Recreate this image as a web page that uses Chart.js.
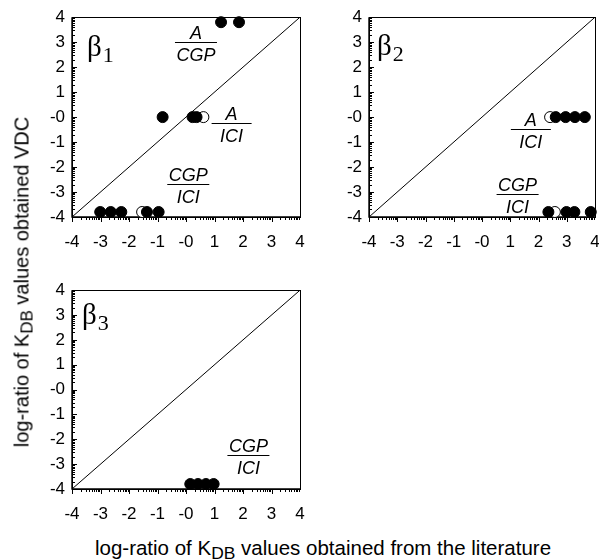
<!DOCTYPE html>
<html lang="en">
<head>
<meta charset="UTF-8" />
<title>log-ratio of KDB values</title>
<script src="https://cdn.jsdelivr.net/npm/chart.js"></script>
<style>
  body {
    margin: 0;
    background: #fff;
    width: 599px;
    height: 560px;
    position: relative;
    overflow: hidden;
    font-family: "Liberation Sans", Arial, sans-serif;
    color: #000;
  }
  canvas { position: absolute; }
  .ytitle {
    position: absolute;
    left: 22px;
    top: 282px;
    transform: translate(-50%, -50%) rotate(-90deg);
    white-space: nowrap;
    font-size: 20px;
  }
  .xtitle {
    position: absolute;
    left: 323px;
    top: 548px;
    transform: translate(-50%, -50%);
    white-space: nowrap;
    font-size: 20.5px;
  }
  sub { font-size: 0.85em; vertical-align: -0.25em; line-height: 0; }
</style>
</head>
<body>
<canvas id="b1" width="290" height="260" style="left:30px;top:0px"></canvas>
<canvas id="b2" width="290" height="260" style="left:327px;top:0px"></canvas>
<canvas id="b3" width="290" height="260" style="left:30px;top:273px"></canvas>
<div class="ytitle">log-ratio of K<sub>DB</sub> values obtained VDC</div>
<div class="xtitle">log-ratio of K<sub>DB</sub> values obtained from the literature</div>

<script>
// tick values on both axes
const axisTicks = [-4, -3, -2, -1, 0, 1, 2, 3, 4];
const diagonalX = [-4, 4];
const diagonalY = [-4, 4];

// beta1 : filled and open circles
const b1FilledX = [1.23, 1.86, -0.82, 0.23, 0.37, -3.01, -2.64, -2.27, -1.37, -0.96];
const b1FilledY = [3.8, 3.8, 0, 0, 0, -3.8, -3.8, -3.8, -3.8, -3.8];
const b1OpenX = [0.61, -1.54];
const b1OpenY = [0, -3.8];

// beta2
const b2FilledX = [2.61, 2.96, 3.29, 3.64, 2.35, 2.99, 3.27, 3.85];
const b2FilledY = [0, 0, 0, 0, -3.8, -3.8, -3.8, -3.8];
const b2OpenX = [2.41, 2.58];
const b2OpenY = [0, -3.8];

// beta3
const b3FilledX = [0.15, 0.42, 0.7, 0.97];
const b3FilledY = [-3.8, -3.8, -3.8, -3.8];
const b3OpenX = [];
const b3OpenY = [];

const tickFont = { family: "'Liberation Sans', Arial, sans-serif", size: 17 };

function toPoints(xs, ys) {
  return xs.map((x, i) => ({ x: x, y: ys[i] }));
}

// frame, small ticks, beta label, fraction labels
const panelDecor = {
  id: "panelDecor",
  beforeDatasetsDraw(chart) {
    const ctx = chart.ctx;
    const a = chart.chartArea;
    const xs = chart.scales.x;
    const ys = chart.scales.y;
    ctx.save();
    ctx.strokeStyle = "#000";
    ctx.lineWidth = 1;
    ctx.strokeRect(Math.round(a.left) + 0.5, Math.round(a.top) + 0.5,
      Math.round(a.right - a.left), Math.round(a.bottom - a.top));
    ctx.lineWidth = 1.4;
    ctx.beginPath();
    ctx.moveTo(a.left, a.top);
    ctx.lineTo(a.left, a.bottom);
    ctx.lineTo(a.right, a.bottom);
    ctx.stroke();
    ctx.lineWidth = 1;
    ctx.beginPath();
    for (let k = -4; k < 4; k++) {
      for (let m = 1; m <= 9; m++) {
        const v = k + Math.log10(m);
        const len = m === 1 ? 5 : 3;
        const py = Math.round(ys.getPixelForValue(v)) + 0.5;
        ctx.moveTo(a.left, py);
        ctx.lineTo(a.left + len, py);
        const px = Math.round(xs.getPixelForValue(v)) + 0.5;
        ctx.moveTo(px, a.bottom);
        ctx.lineTo(px, a.bottom + len);
      }
    }
    ctx.stroke();
    ctx.restore();
  },
  afterDraw(chart, args, opts) {
    const ctx = chart.ctx;
    const a = chart.chartArea;
    const xs = chart.scales.x;
    const ys = chart.scales.y;
    ctx.save();
    ctx.fillStyle = "#000";
    // beta label
    ctx.textBaseline = "alphabetic";
    ctx.textAlign = "left";
    ctx.font = "29px 'Liberation Serif', serif";
    const bx = a.left + opts.betaDx;
    const by = a.top + opts.betaDy;
    ctx.fillText("\u03b2", bx, by);
    const bw = ctx.measureText("\u03b2").width;
    ctx.font = "22px 'Liberation Serif', serif";
    ctx.fillText(opts.betaSub, bx + bw + 1, by + 6);
    // fraction labels
    ctx.font = "italic 18px 'Liberation Sans', Arial, sans-serif";
    ctx.textAlign = "center";
    ctx.strokeStyle = "#000";
    ctx.lineWidth = 1;
    opts.fractions.forEach((f) => {
      const px = xs.getPixelForValue(f.x);
      const py = Math.round(ys.getPixelForValue(f.y)) + 0.5;
      const w = Math.max(40, ctx.measureText(f.top).width + 3, ctx.measureText(f.bottom).width + 3);
      ctx.beginPath();
      ctx.moveTo(px - w / 2, py);
      ctx.lineTo(px + w / 2, py);
      ctx.stroke();
      ctx.textBaseline = "alphabetic";
      ctx.fillText(f.top, px, py - 4);
      ctx.textBaseline = "top";
      ctx.fillText(f.bottom, px, py + 4);
    });
    ctx.restore();
  },
};

function makePanel(id, filledX, filledY, openX, openY, decor, padRight, xAxisH) {
  return new Chart(document.getElementById(id), {
    type: "scatter",
    data: {
      datasets: [
        {
          data: toPoints(filledX, filledY),
          backgroundColor: "#000",
          borderColor: "#000",
          borderWidth: 1,
          pointRadius: 5.5,
          clip: false,
        },
        {
          data: toPoints(openX, openY),
          backgroundColor: "#fff",
          borderColor: "#000",
          borderWidth: 1,
          pointRadius: 5.5,
          clip: false,
        },
        {
          type: "line",
          data: toPoints(diagonalX, diagonalY),
          borderColor: "#000",
          borderWidth: 1,
          pointRadius: 0,
          fill: false,
        },
      ],
    },
    options: {
      responsive: false,
      animation: false,
      events: [],
      layout: { padding: { top: 15, right: padRight, left: 0, bottom: 0 } },
      plugins: {
        legend: { display: false },
        tooltip: { enabled: false },
        panelDecor: decor,
      },
      scales: {
        x: {
          type: "linear",
          min: -4,
          max: 4,
          grid: { display: false, drawTicks: false },
          border: { display: false },
          afterBuildTicks: (s) => { s.ticks = axisTicks.map((v) => ({ value: v })); },
          afterFit: (s) => { s.height = xAxisH; },
          ticks: {
            color: "#000",
            font: tickFont,
            padding: 15,
            maxRotation: 0,
            autoSkip: false,
            callback: (v) => (v === 0 ? "-0" : v),
          },
        },
        y: {
          type: "linear",
          min: -4,
          max: 4,
          grid: { display: false, drawTicks: false },
          border: { display: false },
          afterBuildTicks: (s) => { s.ticks = axisTicks.map((v) => ({ value: v })); },
          afterFit: (s) => { s.width = 42; },
          ticks: {
            color: "#000",
            font: tickFont,
            padding: 7,
            autoSkip: false,
            callback: (v) => (v === 0 ? "-0" : v),
          },
        },
      },
    },
    plugins: [panelDecor],
  });
}

makePanel("b1", b1FilledX, b1FilledY, b1OpenX, b1OpenY, {
  betaSub: "1", betaDx: 15, betaDy: 39,
  fractions: [
    { x: 0.35, y: 3.0, top: "A", bottom: "CGP" },
    { x: 1.6, y: -0.23, top: "A", bottom: "ICI" },
    { x: 0.08, y: -2.67, top: "CGP", bottom: "ICI" },
  ],
}, 20, 43);

makePanel("b2", b2FilledX, b2FilledY, b2OpenX, b2OpenY, {
  betaSub: "2", betaDx: 8, betaDy: 38,
  fractions: [
    { x: 1.73, y: -0.46, top: "A", bottom: "ICI" },
    { x: 1.26, y: -3.06, top: "CGP", bottom: "ICI" },
  ],
}, 22, 43);

makePanel("b3", b3FilledX, b3FilledY, b3OpenX, b3OpenY, {
  betaSub: "3", betaDx: 10, betaDy: 34,
  fractions: [
    { x: 2.19, y: -2.63, top: "CGP", bottom: "ICI" },
  ],
}, 20, 44);
</script>
</body>
</html>
